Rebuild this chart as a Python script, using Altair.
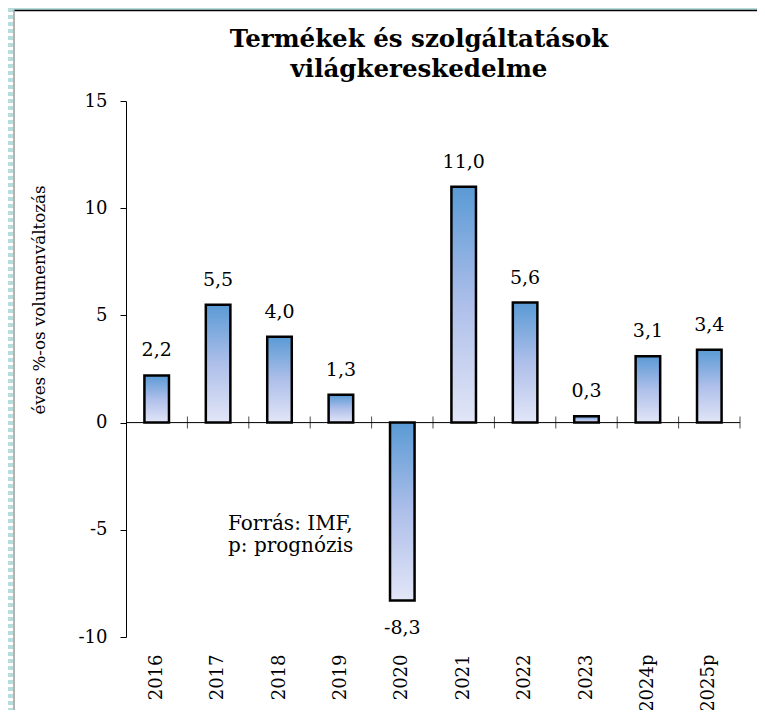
import altair as alt
import pandas as pd

categories = ["2016", "2017", "2018", "2019", "2020", "2021", "2022", "2023", "2024p", "2025p"]
values = [2.2, 5.5, 4.0, 1.3, -8.3, 11.0, 5.6, 0.3, 3.1, 3.4]
y_ticks = [-10, -5, 0, 5, 10, 15]
title_lines = ["Termékek és szolgáltatások", "világkereskedelme"]
y_title = "éves %-os volumenváltozás"
note_lines = ["Forrás: IMF,", "p: prognózis"]

FONT = "DejaVu Serif"
W, H = 614, 536
PAD_L, PAD_T, PAD_R, PAD_B = 118, 93, 17, 73

df = pd.DataFrame({
    "cat": categories,
    "value": values,
    "label": [f"{v:.1f}".replace(".", ",") for v in values],
})
bounds = pd.DataFrame({"pos": list(range(1, len(categories) + 1))})
zero_df = pd.DataFrame({"start": [0], "end": [len(categories)]})
one = pd.DataFrame({"k": [0]})

yscale = alt.Scale(domain=[-10, 15], nice=False, zero=False)
qscale = alt.Scale(domain=[0, len(categories)], nice=False, zero=False)

grad = alt.Gradient(
    gradient="linear",
    stops=[
        alt.GradientStop(color="#5a9ad5", offset=0),
        alt.GradientStop(color="#aebfea", offset=0.5),
        alt.GradientStop(color="#e2e6f7", offset=1),
    ],
    x1=0, x2=0, y1=0, y2=1,
)

xband = alt.X(
    "cat:N", sort=categories,
    scale=alt.Scale(paddingInner=0.6, paddingOuter=0.3),
    axis=alt.Axis(title=None, labelAngle=-90, labelFont=FONT, labelFontSize=18,
                  labelColor="black", domain=False, ticks=False, labelPadding=17),
)
yq = alt.Y(
    "value:Q", scale=yscale,
    axis=alt.Axis(title=None, values=y_ticks, labelExpr="datum.value + ''",
                  labelFont=FONT, labelFontSize=18, labelColor="black",
                  domainColor="black", tickColor="black", tickSize=6,
                  labelPadding=13, grid=False),
)

base = alt.Chart(df)
bars = base.mark_bar(fill=grad, stroke="black", strokeWidth=2.5).encode(
    x=xband, y=yq, y2=alt.datum(0)
)
lab_pos = base.transform_filter("datum.value >= 0").mark_text(
    font=FONT, fontSize=19, color="black", baseline="middle", dy=-25
).encode(x=alt.X("cat:N", sort=categories), y=alt.Y("value:Q"), text="label:N")
lab_neg = base.transform_filter("datum.value < 0").mark_text(
    font=FONT, fontSize=19, color="black", baseline="middle", dy=27
).encode(x=alt.X("cat:N", sort=categories), y=alt.Y("value:Q"), text="label:N")

bar_group = alt.layer(bars, lab_pos, lab_neg)

zero_line = alt.Chart(zero_df).mark_rule(color="black", strokeWidth=1).encode(
    x=alt.X("start:Q", scale=qscale, axis=None), x2="end:Q", y=alt.datum(0)
)
ticks = alt.Chart(bounds).mark_tick(
    orient="vertical", size=12, thickness=1, color="black"
).encode(x=alt.X("pos:Q", scale=qscale, axis=None), y=alt.datum(0))
tick_group = alt.layer(zero_line, ticks)


def text_at(t, x, y, size, weight="normal", align="center", angle=0):
    return alt.Chart(pd.DataFrame({"t": [t]})).mark_text(
        font=FONT, fontSize=size, fontWeight=weight, color="black",
        align=align, baseline="alphabetic" if angle == 0 else "middle", angle=angle
    ).encode(text="t:N", x=alt.value(x), y=alt.value(y))


title1 = text_at(title_lines[0], 293, -54, 24.5, "bold")
title2 = text_at(title_lines[1], 293, -24, 24.5, "bold")
ytitle = text_at(y_title, -86, 199, 16.7, angle=270)
note1 = text_at(note_lines[0], 102, 429, 20, align="left")
note2 = text_at(note_lines[1], 102, 451, 20, align="left")

# chart frame (decorative border, as in the original picture)
frame_top_teal = alt.Chart(one).mark_rule(color="#b7dcdc", strokeWidth=2).encode(
    x=alt.value(-PAD_L), x2=alt.value(W + PAD_R), y=alt.value(-PAD_T + 1))
frame_top = alt.Chart(one).mark_rule(color="black", strokeWidth=1.5).encode(
    x=alt.value(-PAD_L + 6), x2=alt.value(W + PAD_R), y=alt.value(-PAD_T + 2.5))
frame_left = alt.Chart(one).mark_rule(color="#b7dcdc", strokeWidth=5, strokeDash=[4, 3]).encode(
    x=alt.value(-PAD_L + 2.5), y=alt.value(-PAD_T), y2=alt.value(H + PAD_B))
frame_left_line = alt.Chart(one).mark_rule(color="#9a9a9a", strokeWidth=1.5).encode(
    x=alt.value(-PAD_L + 6), y=alt.value(-PAD_T + 2), y2=alt.value(H + PAD_B))

chart = alt.layer(
    bar_group, tick_group, title1, title2, ytitle, note1, note2,
    frame_top_teal, frame_top, frame_left, frame_left_line
).resolve_scale(x="independent").properties(
    width=W, height=H,
    autosize=alt.AutoSizeParams(type="none"),
    padding={"left": PAD_L, "top": PAD_T, "right": PAD_R, "bottom": PAD_B},
    background="white",
).configure_view(stroke=None)

chart.save("out.html", embed_options={"renderer": "svg", "actions": False})
